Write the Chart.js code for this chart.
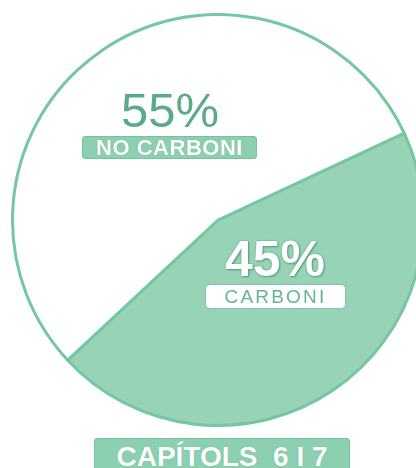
<!DOCTYPE html>
<html>
<head>
<meta charset="utf-8">
<script src="https://cdn.jsdelivr.net/npm/chart.js@4/dist/chart.umd.min.js"></script>
<style>
    html, body { margin: 0; padding: 0; width: 416px; height: 468px; overflow: hidden; background: #ffffff; }
    body { position: relative; font-family: "Liberation Sans", Arial, sans-serif; }
    #wrap { position: absolute; left: 11px; top: 13px; width: 414px; height: 414px; }
    .lbl { position: absolute; white-space: pre; text-align: center; }
    #pct-no { left: 100px; top: 86px; width: 140px; font-size: 49px; line-height: 49px; color: #5aab87; }
    #tag-no { left: 82px; top: 136px; width: 173px; height: 21px; line-height: 21px; background: #8dcfb1; border: 1px solid #74c3a0;
              border-radius: 3px; color: #fff; font-weight: bold; font-size: 22px; letter-spacing: 0.5px;
              text-shadow: 0 0 1px #5aa886; }
    #pct-c { left: 200px; top: 234px; width: 150px; font-size: 50px; line-height: 50px; font-weight: bold; color: #fff;
             text-shadow: 0 0 2px #4f9f7b, 1px 1px 2px #4f9f7b; }
    #tag-c { left: 206px; top: 285px; width: 139px; height: 23px; line-height: 23px; background: #fff; border-radius: 4px;
             box-shadow: 0 0 2px #5aa886; color: #67b590; font-size: 19px; letter-spacing: 2.2px; }
    #title { left: 94px; top: 438px; width: 254px; height: 40px; padding-top: 4px; line-height: 28px; background: #8dcfb1;
             border: 1px solid #74c3a0; border-radius: 3px; color: #fff; font-weight: bold; font-size: 28px;
             text-shadow: 0 0 1px #5aa886; }
</style>
</head>
<body>
<div id="wrap"><canvas id="pie"></canvas></div>
<div class="lbl" id="pct-no"></div>
<div class="lbl" id="tag-no"></div>
<div class="lbl" id="pct-c"></div>
<div class="lbl" id="tag-c"></div>
<div class="lbl" id="title">CAPÍTOLS  6 I 7</div>
<script>
// dades del gràfic
const categories = ['CARBONI', 'NO CARBONI'];
const values = [45, 55];
const colors = ['#98d3b7', '#ffffff'];

// textos de les etiquetes a partir de les dades
document.getElementById('pct-c').innerText = values[0] + '%';
document.getElementById('tag-c').innerText = categories[0];
document.getElementById('pct-no').innerText = values[1] + '%';
document.getElementById('tag-no').innerText = categories[1];

const ctx = document.getElementById('pie').getContext('2d');
const myChart = new Chart(ctx, {
    type: 'pie',
    data: {
        labels: categories,
        datasets: [{
            data: values,
            backgroundColor: colors,
            borderColor: '#74c7a1',
            borderWidth: 3
        }]
    },
    options: {
        responsive: true,
        maintainAspectRatio: false,
        animation: false,
        rotation: 65, // el tall de dalt a la dreta
        layout: { padding: 0 },
        plugins: {
            legend: { display: false },
            tooltip: { enabled: false }
        }
    }
});
</script>
</body>
</html>
